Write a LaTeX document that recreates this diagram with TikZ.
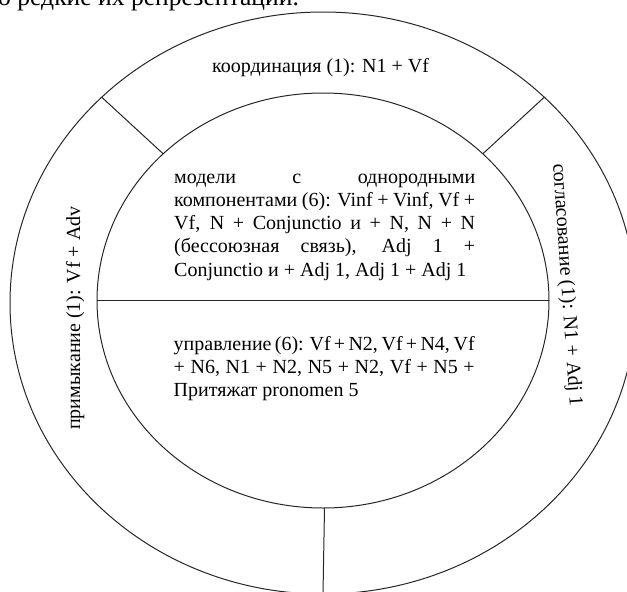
\documentclass[tikz,border=0pt]{standalone}
\usepackage{fontspec}
\setmainfont{Liberation Serif}
\newcommand\jl[1]{\hbox to 301pt{\spaceskip=0.25em plus 4em minus 0.12em\relax #1}}
\begin{document}
\begin{tikzpicture}[x=1pt,y=-1pt,
  txt/.style={inner sep=0pt, font=\fontsize{20}{23.2}\selectfont, text=black},
  ln/.style={line width=1pt, draw=black!85}]
\useasboundingbox (0,0) rectangle (627,592);
\clip (0,0) rectangle (627,592);
% cut-off text of the page above
\node[inner sep=0pt, font=\fontsize{25.6}{30}\selectfont, anchor=base west] (pagetext) at (-2,5.5) {о редкие их репрезентации.};
% rings
\draw[ln] (323,303) ellipse [x radius=313, y radius=291];
\draw[ln] (323,300.5) ellipse [x radius=226, y radius=207.5];
% divider coordinates
\coordinate (o135) at (101.7,97.2);
\coordinate (i135) at (163.2,153.8);
\coordinate (o45) at (544.3,97.2);
\coordinate (i45) at (482.8,153.8);
\coordinate (i270) at (324.5,508);
\coordinate (o270) at (323,594);
\coordinate (iL) at (97,300.5);
\coordinate (iR) at (549,300.5);
\draw[ln] (o135) -- (i135);
\draw[ln] (o45) -- (i45);
\draw[ln] (i270) -- (o270);
\draw[ln] (iL) -- (iR);
% outer ring labels
\node[txt, anchor=base] (koord) at (320.5,72.7) {координация (1): N1 + Vf};
\node[txt, anchor=base, rotate=90] (prim) at (80,318) {примыкание (1): Vf + Adv};
\node[txt, anchor=base, rotate=-86] (sogl) at (561.5,285.5) {согласование (1): N1 + Adj 1};
% upper inner block
\node[txt, anchor=base west] (m1) at (174,183.3) {\jl{модели с однородными}};
\node[txt, anchor=base west] (m2) at (174,206.5) {\jl{компонентами (6): Vinf + Vinf, Vf +}};
\node[txt, anchor=base west] (m3) at (174,229.7) {\jl{Vf, N + Conjunctio и + N, N + N}};
\node[txt, anchor=base west] (m4) at (174,252.9) {\jl{(бессоюзная связь), Adj 1 +}};
\node[txt, anchor=base west] (m5) at (174,276.1) {Conjunctio и + Adj 1, Adj 1 + Adj 1};
% lower inner block
\node[txt, anchor=base west] (u1) at (173.5,350.5) {\jl{управление (6): Vf + N2, Vf + N4, Vf}};
\node[txt, anchor=base west] (u2) at (173.5,373.5) {\jl{+ N6, N1 + N2, N5 + N2, Vf + N5 +}};
\node[txt, anchor=base west] (u3) at (173.5,396.5) {Притяжат pronomen 5};
\end{tikzpicture}
\end{document}
